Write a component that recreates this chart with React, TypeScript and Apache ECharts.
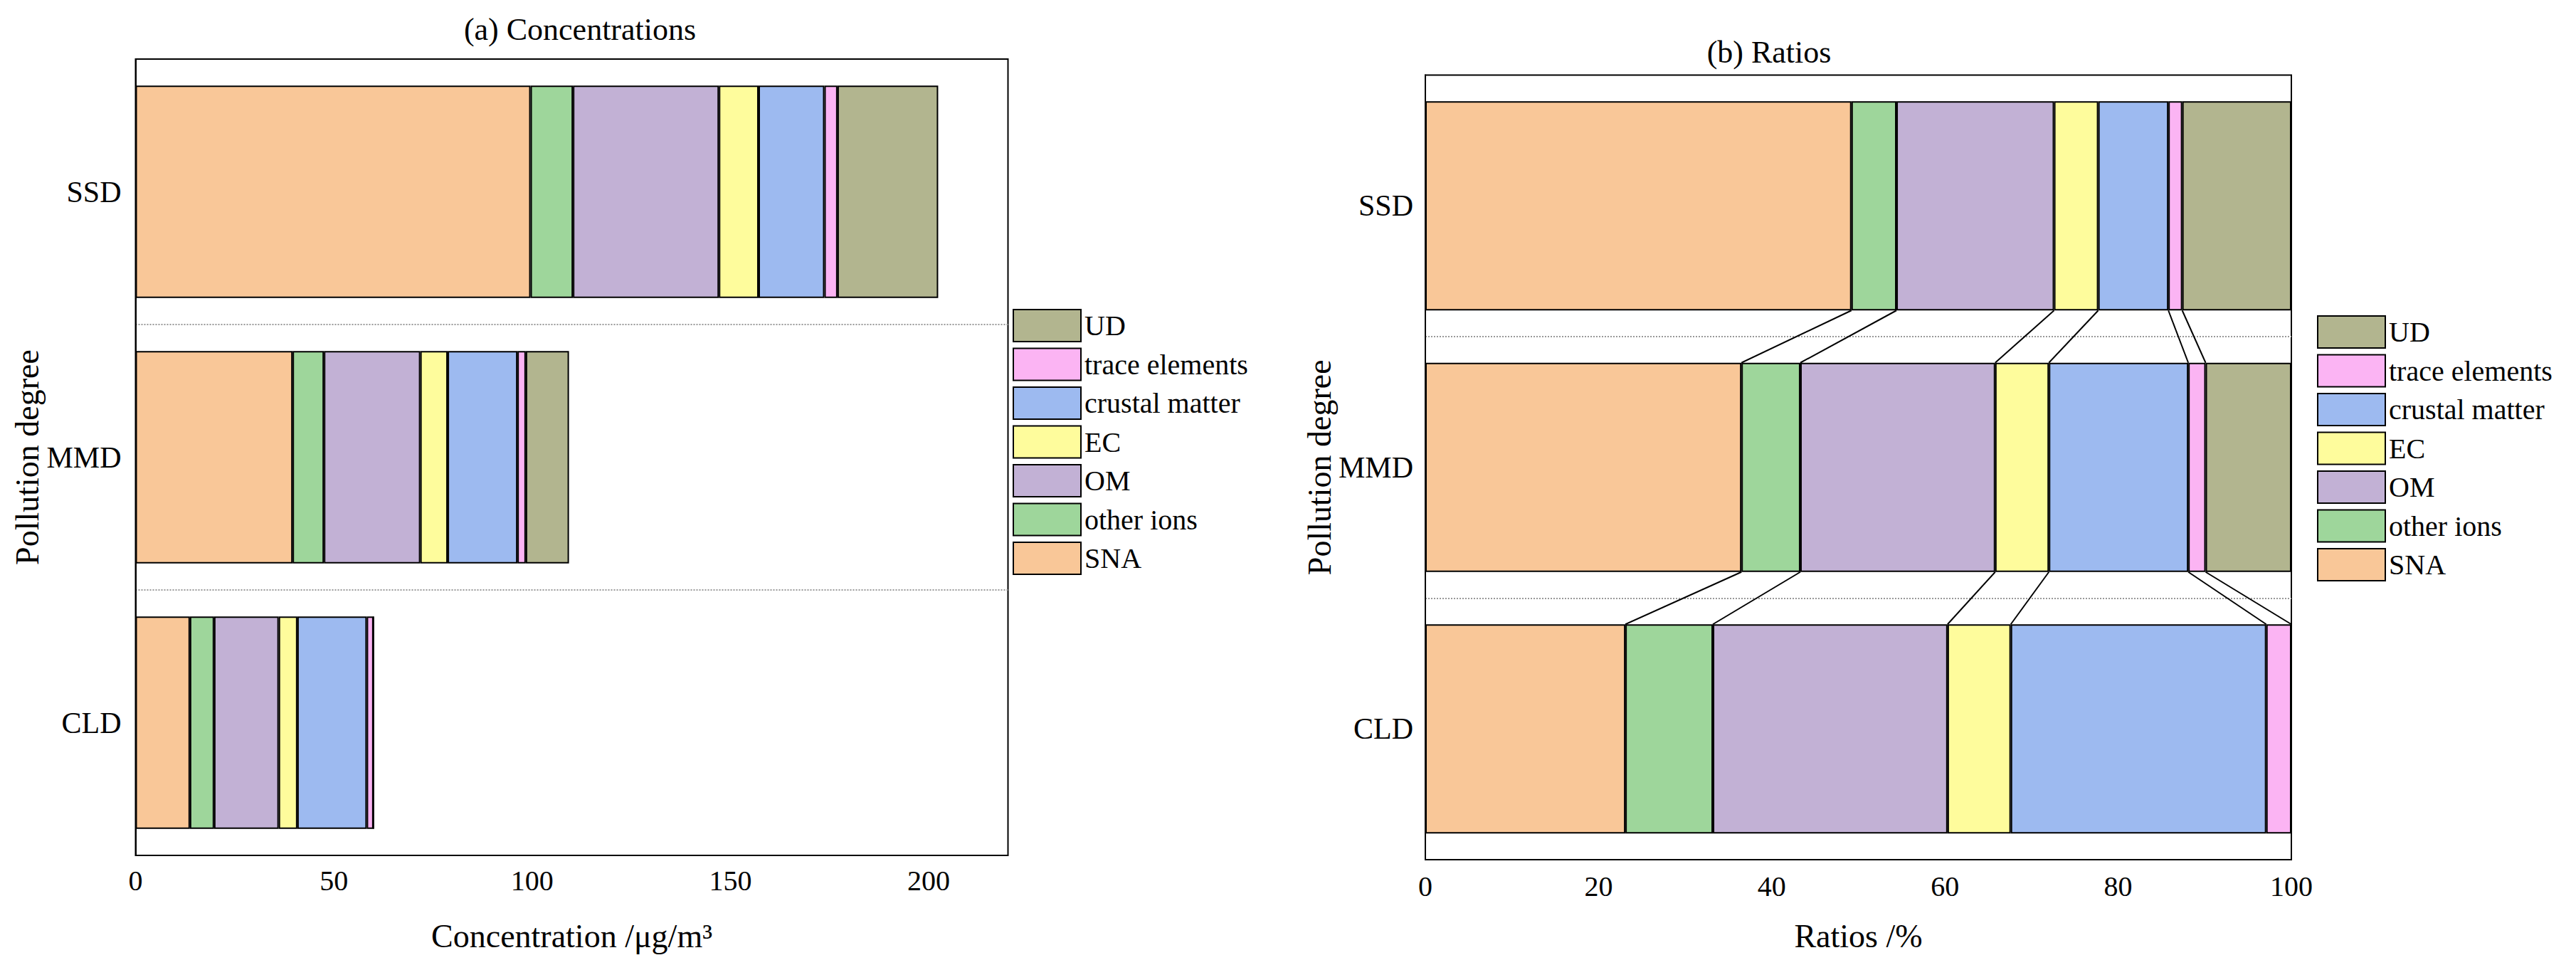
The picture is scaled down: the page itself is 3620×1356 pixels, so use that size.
import { useEffect, useRef } from "react";
import * as echarts from "echarts";

const categories = ["SSD", "MMD", "CLD"];
const components = ["SNA", "other ions", "OM", "EC", "crustal matter", "trace elements", "UD"];
const colors = ["#F9C798", "#9ED69B", "#C2B1D5", "#FEFC9C", "#9DBAF0", "#FBB4F3", "#B2B58F"];

// concentrations, µg/m3 (SSD, MMD, CLD)
const concSNA = [99.6, 39.6, 13.7];
const concOther = [10.7, 7.9, 6.1];
const concOM = [36.8, 24.3, 16.3];
const concEC = [10.0, 6.9, 4.7];
const concCrustal = [16.6, 17.6, 17.5];
const concTrace = [3.3, 2.1, 1.7];
const concUD = [25.4, 10.9, 0];

// ratios, % (SSD, MMD, CLD)
const ratioSNA = [49.2, 36.5, 23.1];
const ratioOther = [5.2, 6.8, 10.1];
const ratioOM = [18.2, 22.5, 27.1];
const ratioEC = [5.1, 6.2, 7.3];
const ratioCrustal = [8.1, 16.1, 29.5];
const ratioTrace = [1.6, 2.0, 2.9];
const ratioUD = [12.6, 9.9, 0];

const concTicks = [0, 50, 100, 150, 200];
const ratioTicks = [0, 20, 40, 60, 80, 100];

const FONT = '"Liberation Serif", "Times New Roman", serif';

function buildOption(): echarts.EChartsOption {
  const concSets = [concSNA, concOther, concOM, concEC, concCrustal, concTrace, concUD];
  const ratioSets = [ratioSNA, ratioOther, ratioOM, ratioEC, ratioCrustal, ratioTrace, ratioUD];

  // cumulative right edges of each segment, per category
  const cum = categories.map((_, ci) => {
    let s = 0;
    return ratioSets.map((arr) => (s += arr[ci]));
  });
  const links: number[][] = [];
  for (let ci = 0; ci < categories.length - 1; ci++) {
    for (let k = 0; k < components.length - 1; k++) {
      links.push([cum[ci][k], cum[ci + 1][k], ci, ci + 1]);
    }
  }

  const barStyle = (i: number) => ({ color: colors[i], borderColor: "#000", borderWidth: 2 });
  const legendNames = [...components].reverse();

  const yBase = {
    type: "category" as const,
    data: categories,
    inverse: true,
    axisLine: { lineStyle: { color: "#000", width: 2 } },
    axisLabel: { color: "#000", fontSize: 42, fontFamily: FONT },
    splitLine: {
      show: true,
      showMinLine: false,
      showMaxLine: false,
      lineStyle: { color: "#999", type: "dotted" as const, width: 2 },
    },
    nameLocation: "middle" as const,
    nameTextStyle: { color: "#000", fontSize: 46, fontFamily: FONT },
    name: "Pollution degree",
  };

  const xBase = {
    type: "value" as const,
    min: 0,
    axisLine: { lineStyle: { color: "#000", width: 2 } },
    axisTick: { inside: true, length: 17, lineStyle: { color: "#000", width: 2 } },
    splitLine: { show: false },
    nameLocation: "middle" as const,
    nameTextStyle: { color: "#000", fontSize: 46, fontFamily: FONT },
  };

  const legendBase = {
    orient: "vertical" as const,
    itemWidth: 95,
    itemHeight: 45,
    itemGap: 7.5,
    padding: 0,
    icon: "rect",
    data: legendNames,
    textStyle: { color: "#000", fontSize: 40, fontFamily: FONT },
    selectedMode: false as const,
  };

  return {
    animation: false,
    backgroundColor: "#fff",
    textStyle: { fontFamily: FONT },
    title: [
      {
        text: "(a) Concentrations",
        left: 815,
        top: 19,
        textAlign: "center",
        padding: 0,
        textStyle: { color: "#000", fontSize: 44, fontWeight: "normal", fontFamily: FONT },
      },
      {
        text: "(b) Ratios",
        left: 2486,
        top: 51,
        textAlign: "center",
        padding: 0,
        textStyle: { color: "#000", fontSize: 44, fontWeight: "normal", fontFamily: FONT },
      },
    ],
    legend: [
      { ...legendBase, left: 1423, top: 434 },
      { ...legendBase, left: 3256, top: 443 },
    ],
    grid: [
      { left: 190.5, top: 83, width: 1226, height: 1119, show: true, borderColor: "#000", borderWidth: 2, backgroundColor: "transparent" },
      { left: 2003, top: 105.5, width: 1217, height: 1102.5, show: true, borderColor: "#000", borderWidth: 2, backgroundColor: "transparent" },
    ],
    xAxis: [
      {
        ...xBase,
        gridIndex: 0,
        max: 220,
        interval: 50,
        name: "Concentration /μg/m³",
        nameGap: 90,
        axisLabel: {
          color: "#000",
          fontSize: 40,
          fontFamily: FONT,
          margin: 15,
          formatter: (v: number) => (concTicks.includes(v) ? String(v) : ""),
        },
      },
      {
        ...xBase,
        gridIndex: 1,
        max: 100,
        interval: 20,
        name: "Ratios /%",
        nameGap: 84,
        axisLabel: {
          color: "#000",
          fontSize: 40,
          fontFamily: FONT,
          margin: 17,
          formatter: (v: number) => (ratioTicks.includes(v) ? String(v) : ""),
        },
      },
    ],
    yAxis: [
      {
        ...yBase,
        gridIndex: 0,
        nameGap: 127,
        axisTick: { inside: true, alignWithLabel: true, length: 17, lineStyle: { color: "#000", width: 2 } },
        axisLabel: { ...yBase.axisLabel, margin: 20 },
      },
      {
        ...yBase,
        gridIndex: 1,
        nameGap: 124,
        axisTick: { inside: true, length: 9, lineStyle: { color: "#000", width: 2 } },
        axisLabel: { ...yBase.axisLabel, margin: 17 },
      },
    ],
    series: [
      ...components.map((name, i) => ({
        name,
        type: "bar" as const,
        stack: "conc",
        xAxisIndex: 0,
        yAxisIndex: 0,
        barCategoryGap: "20%",
        itemStyle: barStyle(i),
        data: concSets[i],
      })),
      ...components.map((name, i) => ({
        name,
        type: "bar" as const,
        stack: "ratio",
        xAxisIndex: 1,
        yAxisIndex: 1,
        barCategoryGap: "20%",
        itemStyle: barStyle(i),
        data: ratioSets[i],
      })),
      {
        name: "connectors",
        type: "custom",
        xAxisIndex: 1,
        yAxisIndex: 1,
        encode: { x: [0, 1], y: [2, 3] },
        silent: true,
        z: 3,
        data: links,
        renderItem: (_params: any, api: any) => {
          const from = api.coord([api.value(0), api.value(2)]);
          const to = api.coord([api.value(1), api.value(3)]);
          const half = api.size([0, 1])[1] * 0.4;
          return {
            type: "line",
            shape: { x1: from[0], y1: from[1] + half, x2: to[0], y2: to[1] - half },
            style: { stroke: "#000", lineWidth: 2 },
          };
        },
      },
    ],
  };
}

export default function App() {
  const chartRef = useRef<HTMLDivElement>(null);

  useEffect(() => {
    if (!chartRef.current) return;
    const chart = echarts.init(chartRef.current, undefined, { renderer: "svg" });
    chart.setOption(buildOption());
    return () => chart.dispose();
  }, []);

  return (
    <div
      ref={chartRef}
      style={{ position: "absolute", left: 0, top: 0, width: 3620, height: 1356, background: "#fff" }}
    />
  );
}
